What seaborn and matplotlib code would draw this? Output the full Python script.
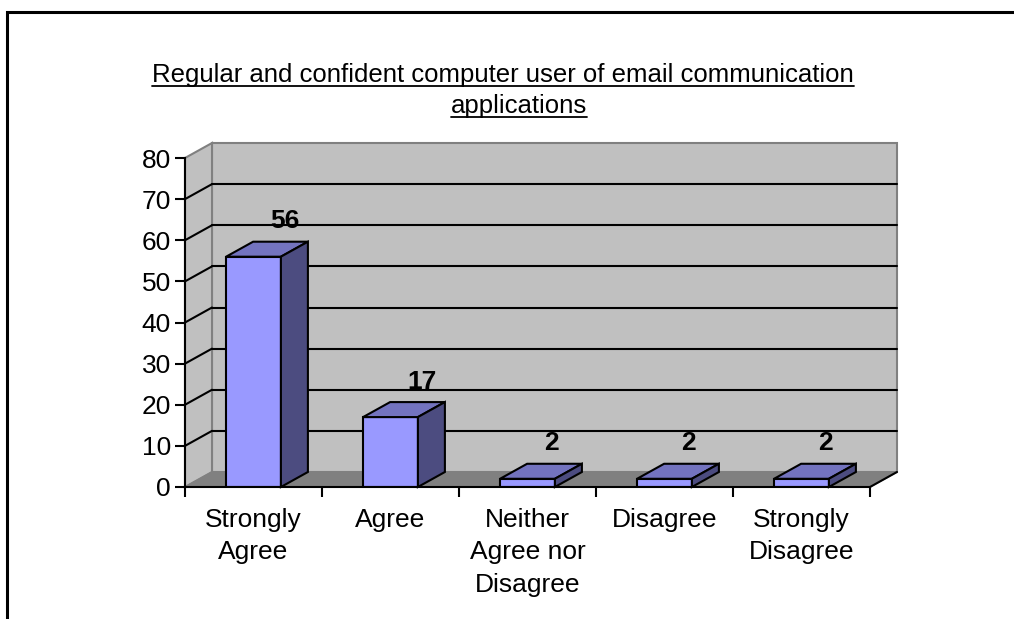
import matplotlib
matplotlib.use("Agg")
import matplotlib.pyplot as plt
from matplotlib.patches import Polygon, Rectangle
from matplotlib.lines import Line2D
import seaborn as sns

categories = ["Strongly\nAgree", "Agree", "Neither\nAgree nor\nDisagree", "Disagree", "Strongly\nDisagree"]
values = [56, 17, 2, 2, 2]
y_ticks = [0, 10, 20, 30, 40, 50, 60, 70, 80]
title_lines = ["Regular and confident computer user of email communication", "applications"]

sns.set_theme(style="white")
plt.rcParams["font.family"] = ["Liberation Sans", "DejaVu Sans"]
plt.rcParams["text.color"] = "black"
plt.rcParams["xtick.color"] = "black"
plt.rcParams["ytick.color"] = "black"
plt.rcParams["xtick.labelcolor"] = "black"
plt.rcParams["ytick.labelcolor"] = "black"

FRONT = "#9999FF"
TOP = "#7373BF"
SIDE = "#4C4C80"
WALL = "#C0C0C0"
FLOOR = "#808080"
EDGE_GRAY = "#808080"

fig = plt.figure(figsize=(10.14, 6.19), dpi=100)
ax = fig.add_axes([185 / 1014, 132 / 619, 685 / 1014, 329 / 619])

n = len(categories)
x0, x1 = -0.5, n - 0.5
y0, y1 = 0, 80
# oblique depth offset in data units (right and up)
dx = 27 / 137
dy = 15 / (329 / 80)

ax.set_xlim(x0, x1)
ax.set_ylim(y0, y1)

# back wall
ax.add_patch(Polygon([(x0 + dx, y0 + dy), (x1 + dx, y0 + dy), (x1 + dx, y1 + dy), (x0 + dx, y1 + dy)],
                     closed=True, facecolor=WALL, edgecolor=EDGE_GRAY, lw=1.5, zorder=0, clip_on=False))
# left side wall
ax.add_patch(Polygon([(x0, y0), (x0 + dx, y0 + dy), (x0 + dx, y1 + dy), (x0, y1)],
                     closed=True, facecolor=WALL, edgecolor=EDGE_GRAY, lw=1.5, zorder=0, clip_on=False))
# floor
ax.add_patch(Polygon([(x0, y0), (x1, y0), (x1 + dx, y0 + dy), (x0 + dx, y0 + dy)],
                     closed=True, facecolor=FLOOR, edgecolor=EDGE_GRAY, lw=1.0, zorder=1, clip_on=False))
ax.add_line(Line2D([x1, x1 + dx], [y0, y0 + dy], color="black", lw=1.5, zorder=2, clip_on=False))

# gridlines on back and side walls
for v in y_ticks[1:-1]:
    ax.add_line(Line2D([x0 + dx, x1 + dx], [v + dy, v + dy], color="black", lw=1.5, zorder=1, clip_on=False))
    ax.add_line(Line2D([x0, x0 + dx], [v, v + dy], color="black", lw=1.5, zorder=1, clip_on=False))

# front faces of bars
sns.barplot(x=list(range(n)), y=values, width=0.4, color=FRONT, saturation=1,
            edgecolor="black", linewidth=1.5, ax=ax, zorder=3)
ax.set_xlim(x0, x1)
ax.set_ylim(y0, y1)

# top and side faces, plus value labels
for bar, val in zip(ax.containers[0], values):
    bx = bar.get_x()
    bw = bar.get_width()
    bh = bar.get_height()
    top = Polygon([(bx, bh), (bx + bw, bh), (bx + bw + dx, bh + dy), (bx + dx, bh + dy)],
                  closed=True, facecolor=TOP, edgecolor="black", lw=1.5, zorder=3, clip_on=False)
    side = Polygon([(bx + bw, 0), (bx + bw + dx, dy), (bx + bw + dx, bh + dy), (bx + bw, bh)],
                   closed=True, facecolor=SIDE, edgecolor="black", lw=1.5, zorder=3, clip_on=False)
    ax.add_patch(top)
    ax.add_patch(side)
    ax.text(bx + bw / 2 + 0.12, bh + dy + 3.3, f"{val}", ha="left", va="baseline",
            fontsize=19, fontweight="bold", color="black", zorder=4)

# axes lines and ticks
for s in ["top", "right"]:
    ax.spines[s].set_visible(False)
for s in ["left", "bottom"]:
    ax.spines[s].set_visible(True)
    ax.spines[s].set_color("black")
    ax.spines[s].set_linewidth(1.5)
    ax.spines[s].set_zorder(5)
ax.set_facecolor("none")
ax.grid(False)

ax.set_yticks(y_ticks)
ax.set_yticklabels([str(t) for t in y_ticks])
ax.tick_params(axis="y", which="major", direction="out", length=7, width=1.5, color="black",
               labelsize=19, labelcolor="black", pad=3, left=True)

ax.set_xticks(list(range(n)))
ax.set_xticklabels(categories, linespacing=1.45)
ax.set_xticks([x0 + i for i in range(n + 1)], minor=True)
ax.tick_params(axis="x", which="major", length=0, labelsize=19, labelcolor="black", pad=15)
ax.tick_params(axis="x", which="minor", direction="out", length=7, width=1.5, color="black", bottom=True)
ax.set_xlabel("")
ax.set_ylabel("")

# chart title, underlined
t1 = fig.text(503 / 1014, 1 - 75 / 619, title_lines[0], ha="center", va="center", fontsize=18.5,
              color="black")
t2 = fig.text(519 / 1014, 1 - 106 / 619, title_lines[1], ha="center", va="center", fontsize=18.5,
              color="black")
fig.canvas.draw()
renderer = fig.canvas.get_renderer()
for t in (t1, t2):
    bb = t.get_window_extent(renderer)
    yline = bb.y0 + 1
    fig.add_artist(Line2D([bb.x0 / 1014, bb.x1 / 1014], [yline / 619, yline / 619],
                          transform=fig.transFigure, color="black", lw=1.3))

# outer chart border
fig.add_artist(Rectangle((7 / 1014, -0.1), 1.2, 1 - 12 / 619 + 0.1, transform=fig.transFigure,
                         fill=False, edgecolor="black", lw=2.2))

fig.savefig("out.png", dpi=100, facecolor="white")
